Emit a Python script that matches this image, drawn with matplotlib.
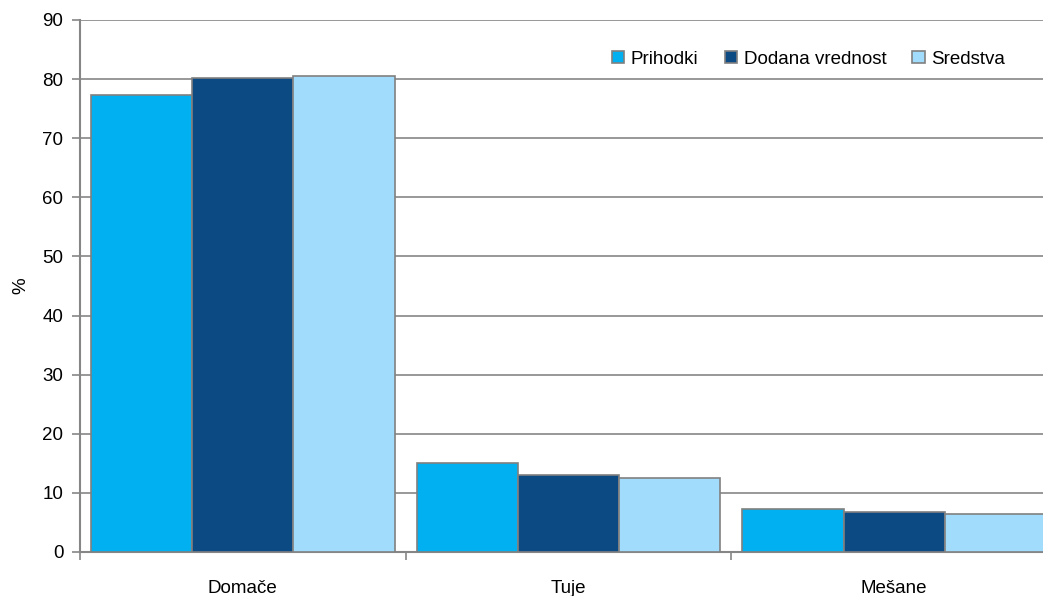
import numpy as np
import matplotlib
matplotlib.use("Agg")
from matplotlib import pyplot as plt

categories = ["Domače", "Tuje", "Mešane"]
series_names = ["Prihodki", "Dodana vrednost", "Sredstva"]
prihodki = [77.3, 15.1, 7.2]
dodana_vrednost = [80.2, 13.0, 6.7]
sredstva = [80.5, 12.6, 6.4]
colors = ["#00b0f0", "#0b4a82", "#a1dcfc"]

plt.rcParams['font.family'] = ['Liberation Sans Narrow', 'Liberation Sans', 'DejaVu Sans']

fig = plt.figure(figsize=(10.43, 5.96), dpi=100)
# plot area runs past the right edge of the picture, as in the original
ax = fig.add_axes([80 / 1043, 44 / 596, 977 / 1043, 532 / 596])

x = np.arange(len(categories))
width = 1 / 3.216
for i, (name, vals) in enumerate(zip(series_names, [prihodki, dodana_vrednost, sredstva])):
    ax.bar(x + (i - 1) * width, vals, width, color=colors[i], edgecolor="#808080",
           linewidth=1.2, label=name, zorder=3)

ax.set_xlim(-0.5, len(categories) - 0.5)
ax.set_ylim(0, 90)
ax.set_yticks(np.arange(0, 91, 10))
ax.yaxis.grid(True, color="#868686", linewidth=1.2, zorder=0)
ax.set_axisbelow(True)

ax.set_xticks(x)
ax.set_xticklabels(categories, fontsize=13.5)
ax.set_xticks(np.arange(-0.5, len(categories), 1), minor=True)
ax.tick_params(axis="x", which="major", length=0, pad=20)
ax.tick_params(axis="x", which="minor", length=6, color="#868686", width=1.2)
ax.tick_params(axis="y", length=6, color="#868686", width=1.2, labelsize=13.5, pad=6)

for side in ["top", "right"]:
    ax.spines[side].set_visible(False)
for side in ["left", "bottom"]:
    ax.spines[side].set_color("#868686")
    ax.spines[side].set_linewidth(1.5)

ax.set_ylabel("%", fontsize=13.5, labelpad=9)

fig.legend(loc="center right", bbox_to_anchor=(1005 / 1043, 1 - 59 / 596),
           bbox_transform=fig.transFigure, ncol=3, frameon=False,
           fontsize=13.5, handlelength=0.65, handleheight=0.65, columnspacing=1.4,
           handletextpad=0.35, borderpad=0, borderaxespad=0)

fig.savefig("out.png", dpi=100)
